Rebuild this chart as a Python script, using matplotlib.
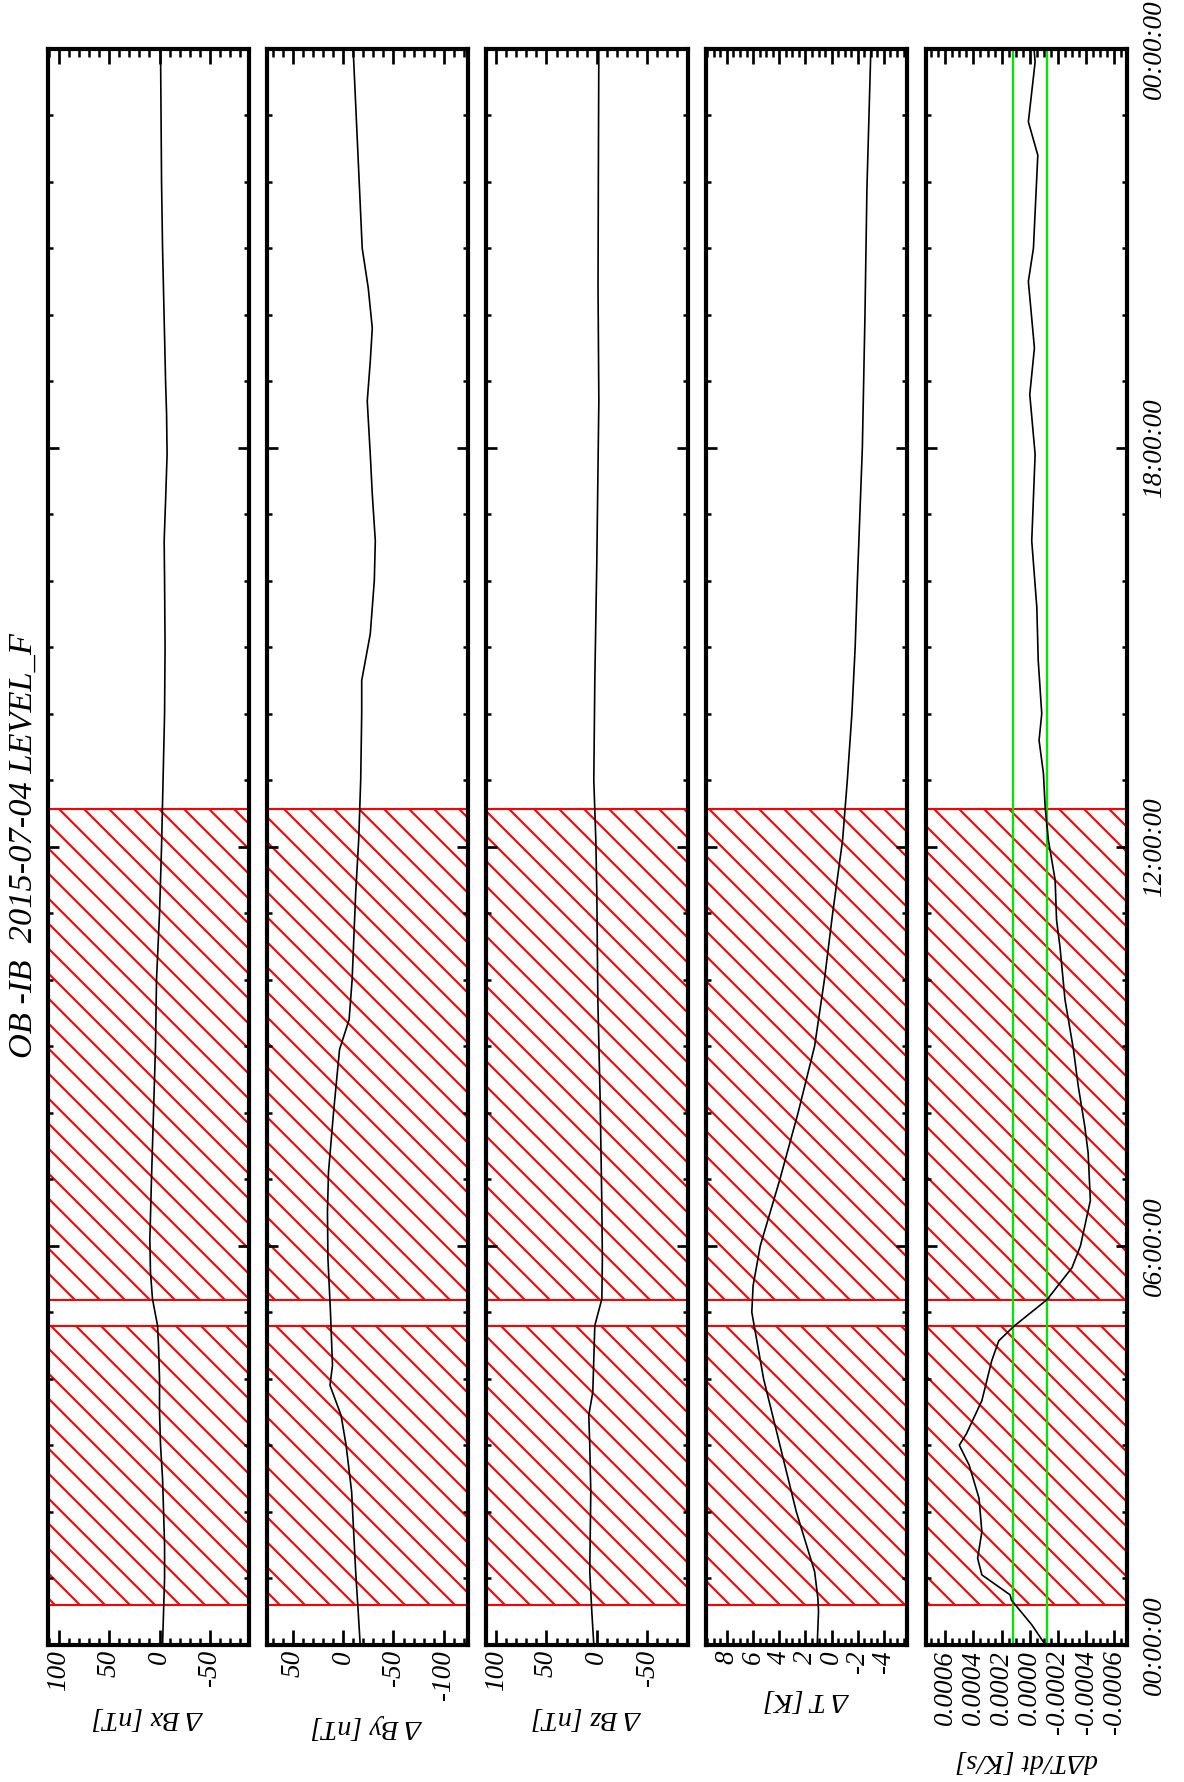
import matplotlib
matplotlib.use('Agg')
import matplotlib.pyplot as plt
from matplotlib.ticker import MultipleLocator
import numpy as np

plt.rcParams['font.family'] = ['Liberation Serif', 'DejaVu Serif']
plt.rcParams['font.style'] = 'italic'
plt.rcParams['axes.unicode_minus'] = False
plt.rcParams['hatch.color'] = 'red'
plt.rcParams['hatch.linewidth'] = 1.0

title = 'OB -IB  2015-07-04 LEVEL_F'

# time axis (hours of the day)
time_ticks = [0, 6, 12, 18, 24]
time_labels = ['00:00:00', '06:00:00', '12:00:00', '18:00:00', '00:00:00']

# excluded (hatched) intervals, hours
masked = [(0.6, 4.79), (5.19, 12.57)]

# Delta Bx [nT]
bx_t = [0.0, 0.5, 1.0, 1.5, 2.0, 2.5, 3.0, 3.5, 4.0, 4.5, 4.8, 5.2, 5.6, 6.1, 7.0, 8.0, 9.0,
        10.0, 11.0, 12.0, 13.0, 14.0, 15.0, 16.0, 16.6, 17.2, 17.9, 18.5, 19.0, 20.0, 21.0,
        22.0, 23.0, 24.0]
bx_v = [-3, -4, -5, -5, -4, -3, -1, 0, 0, 1, 2, 7, 9, 9.6, 8, 6, 4,
        3, 0, -2, -3.5, -5, -5.5, -5, -4.6, -6, -7.5, -7, -6, -4.5, -3,
        -2, -1.5, -1]

# Delta By [nT]
by_t = [0.0, 0.5, 1.1, 2.3, 3.0, 3.45, 3.9, 4.2, 5.0, 5.8, 6.5, 7.1, 8.0, 8.95, 9.4, 10.0,
        11.3, 12.1, 13.0, 14.0, 14.5, 15.2, 16.0, 16.6, 17.3, 17.9, 18.7, 19.3, 19.8, 20.4,
        21.0, 22.0, 23.0, 24.0]
by_v = [-17, -15, -12.5, -8.5, -3, 2, 13, 10.5, 12.5, 15, 15.5, 14.5, 9.5, 3.5, -6, -9,
        -12.5, -15.5, -17.5, -18.5, -18.5, -27, -31, -32, -29, -27, -24, -27, -29, -25,
        -19, -16, -13, -10]

# Delta Bz [nT]
bz_t = [0.0, 0.5, 1.1, 2.3, 3.0, 3.45, 3.8, 4.8, 5.2, 5.8, 6.6, 8.2, 9.7, 11.3, 12.1, 13.0,
        14.5, 16.3, 18.7, 20.4, 22.0, 24.0]
bz_v = [3, 5, 7, 6, 7, 8, 4, 2, -5, -5.5, -5, -3.3, -1, 0, 1, 3,
        2, 0, -2, -1.2, -1.5, -2]

# Delta T [K]
dt_t = [0.0, 0.5, 0.7, 1.1, 2.0, 3.0, 4.0, 5.0, 5.4, 6.0, 7.0, 8.0, 9.0, 10.0, 11.0, 12.1,
        13.0, 14.0, 15.0, 16.0, 18.0, 20.0, 21.9, 24.0]
dt_v = [1.1, 1.0, 1.05, 1.3, 2.7, 3.95, 5.2, 6.1, 6.0, 5.45, 3.95, 2.56, 1.3, 0.55, -0.08, -0.84,
        -1.2, -1.55, -1.8, -1.97, -2.35, -2.55, -2.7, -3.0]

# d(Delta T)/dt [K/s]
dtdt_t = [0.0, 0.3, 0.67, 0.75, 1.05, 1.3, 1.7, 1.95, 2.2, 2.7, 3.0, 3.17, 3.67, 4.27, 4.57,
          4.79, 5.19, 5.67, 6.0, 6.68, 7.4, 7.8, 8.4, 8.95, 9.7, 10.5, 10.9, 11.5, 12.1, 12.6,
          13.1, 13.6, 14.0, 14.8, 15.6, 16.6, 17.9, 18.8, 19.5, 20.5, 21.0, 22.4, 22.9, 23.8,
          24.0]
dtdt_v = [-1.1e-4, -0.14e-4, 1.3e-4, 1.4e-4, 3.4e-4, 3.7e-4, 3.4e-4, 3.5e-4, 3.6e-4, 4.3e-4,
          5.0e-4, 4.5e-4, 3.4e-4, 2.7e-4, 2.2e-4, 1.12e-4, -1.23e-4, -3.0e-4, -3.6e-4, -4.3e-4,
          -4.14e-4, -3.9e-4, -3.44e-4, -3.1e-4, -2.5e-4, -2.14e-4, -1.9e-4, -1.8e-4, -1.32e-4,
          -1.09e-4, -0.97e-4, -0.66e-4, -0.85e-4, -0.6e-4, -0.5e-4, -0.14e-4, -0.38e-4, 0.0,
          -0.33e-4, 0.1e-4, -0.26e-4, -0.57e-4, 0.1e-4, -0.38e-4, -0.3e-4]
dtdt_limits = [1.2e-4, -1.2e-4]

panels = [
    dict(t=bx_t, v=bx_v, label='Δ Bx [nT]', lim=(111, -89), ticks=[100, 50, 0, -50],
         ticklabels=['100', '50', '0', '-50'], minor=10),
    dict(t=by_t, v=by_v, label='Δ By [nT]', lim=(76, -124), ticks=[50, 0, -50, -100],
         ticklabels=['50', '0', '-50', '-100'], minor=10),
    dict(t=bz_t, v=bz_v, label='Δ Bz [nT]', lim=(110, -90), ticks=[100, 50, 0, -50],
         ticklabels=['100', '50', '0', '-50'], minor=10),
    dict(t=dt_t, v=dt_v, label='Δ T [K]', lim=(9.6, -5.8), ticks=[8, 6, 4, 2, 0, -2, -4],
         ticklabels=['8', '6', '4', '2', '0', '-2', '-4'], minor=0.5),
    dict(t=dtdt_t, v=dtdt_v, label='dΔT/dt [K/s]', lim=(7.4e-4, -6.9e-4),
         ticks=[6e-4, 4e-4, 2e-4, 0.0, -2e-4, -4e-4, -6e-4],
         ticklabels=['0.0006', '0.0004', '0.0002', '0.0000', '-0.0002', '-0.0004', '-0.0006'],
         minor=0.5e-4),
]

W, H = 1184, 1782
fig = plt.figure(figsize=(W / 150, H / 150), dpi=150)

lefts = [47.7, 266.5, 486, 706, 925.5]
pw = 201.5
top_px, bot_px = 48.7, 1644.7

for i, p in enumerate(panels):
    ax = fig.add_axes([lefts[i] / W, 1 - bot_px / H, pw / W, (bot_px - top_px) / H])
    for t0, t1 in masked:
        ax.axhspan(t0, t1, facecolor='none', edgecolor='red', hatch='\\\\', linewidth=1.0, zorder=1)
    if i == 4:
        for g in dtdt_limits:
            ax.axvline(g, color='#00e600', lw=1.1, zorder=2)
    ax.plot(p['v'], p['t'], color='black', lw=0.8, zorder=3)

    ax.set_ylim(0, 24)
    ax.set_xlim(*p['lim'])

    ax.set_yticks(time_ticks)
    ax.yaxis.set_minor_locator(MultipleLocator(1))
    ax.tick_params(axis='y', which='both', direction='in', left=True, right=True,
                   labelleft=False, labelright=(i == 4))
    ax.tick_params(axis='y', which='major', length=5.5, width=1.3, pad=7)
    ax.tick_params(axis='y', which='minor', length=2.6, width=1.2)
    if i == 4:
        ax.set_yticklabels(time_labels, rotation=90, va='center', fontsize=13)

    ax.set_xticks(p['ticks'])
    ax.set_xticklabels(p['ticklabels'], rotation=90, ha='center', va='top', fontsize=13)
    ax.xaxis.set_minor_locator(MultipleLocator(p['minor']))
    ax.tick_params(axis='x', which='both', direction='in', top=True, bottom=True)
    ax.tick_params(axis='x', which='major', length=7.4, width=1.3, pad=2.5)
    ax.tick_params(axis='x', which='minor', length=3.6, width=1.2)

    ax.set_xlabel(p['label'], rotation=180, fontsize=13.5, labelpad=7)
    for s in ax.spines.values():
        s.set_linewidth(2.0)

fig.text(24 / W, 1 - 846 / H, title, rotation=90, ha='center', va='center', fontsize=16.5)

fig.savefig('out.png', dpi=150)
